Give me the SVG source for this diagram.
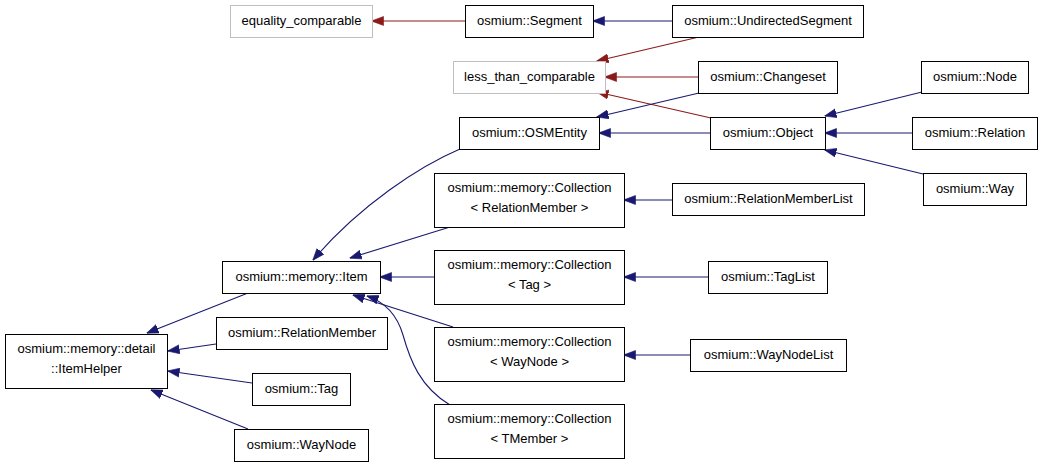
<svg xmlns="http://www.w3.org/2000/svg" width="1043" height="467" viewBox="0 0 1043 467">
<defs>
<style>
.n rect{fill:#fff;stroke:#000;stroke-width:1}
.g rect{fill:#fff;stroke:#bfbfbf;stroke-width:1}
text{font-family:"Liberation Sans",Arial,sans-serif;font-size:13px;fill:#000;text-anchor:middle}
.b{fill:none;stroke:#191970;stroke-width:1.1;marker-end:url(#ab)}
.r{fill:none;stroke:#8b1a1a;stroke-width:1.1;marker-end:url(#ar)}
</style>
<marker id="ab" markerUnits="userSpaceOnUse" markerWidth="12" markerHeight="10" refX="11.5" refY="4.5" orient="auto" viewBox="0 0 12 9">
<path d="M0,0 L12,4.5 L0,9 z" fill="#191970" stroke="#191970" stroke-width="0.6"/>
</marker>
<marker id="ar" markerUnits="userSpaceOnUse" markerWidth="12" markerHeight="10" refX="11.5" refY="4.5" orient="auto" viewBox="0 0 12 9">
<path d="M0,0 L12,4.5 L0,9 z" fill="#8b1a1a" stroke="#8b1a1a" stroke-width="0.6"/>
</marker>
</defs>
<rect width="1043" height="467" fill="#fff"/>
<g id="connectors">
<path class="r" d="M465,21 L372,21"/>
<path class="b" d="M672,21 L593,21"/>
<path class="r" d="M699,37 L597,61"/>
<path class="r" d="M698,77 L605,77"/>
<path class="r" d="M711,118 L597,92"/>
<path class="b" d="M699,93 L597,117"/>
<path class="b" d="M710,133 L599,133"/>
<path class="b" d="M922,92 L825,116"/>
<path class="b" d="M912,133 L825,133"/>
<path class="b" d="M923,174 L825,150"/>
<path class="b" d="M460,149 C420,166 360,205 313,260"/>
<path class="b" d="M450,227 L350,258"/>
<path class="b" d="M434,277 L380,277"/>
<path class="b" d="M453,327 L353,295"/>
<path class="b" d="M450,405 C420,387 410,360 403,335 C398,318 388,303 367,296"/>
<path class="b" d="M248,293 L147,333"/>
<path class="b" d="M216,344 L168,351"/>
<path class="b" d="M252,383 L168,371"/>
<path class="b" d="M248,429 L151,390"/>
<path class="b" d="M672,200 L624,200"/>
<path class="b" d="M708,277 L624,277"/>
<path class="b" d="M690,355 L624,355"/>
</g>
<g id="equality_comparable" class="g"><rect x="230.5" y="5.5" width="142" height="32"/><text x="301.5" y="25">equality_comparable</text></g>
<g id="Segment" class="n"><rect x="465.5" y="5.5" width="128" height="32"/><text x="529.5" y="25">osmium::Segment</text></g>
<g id="UndirectedSegment" class="n"><rect x="672.5" y="5.5" width="191" height="32"/><text x="768" y="25">osmium::UndirectedSegment</text></g>
<g id="less_than_comparable" class="g"><rect x="453.5" y="61.5" width="152" height="32"/><text x="529.5" y="81">less_than_comparable</text></g>
<g id="Changeset" class="n"><rect x="698.5" y="61.5" width="139" height="32"/><text x="768" y="81">osmium::Changeset</text></g>
<g id="OSMEntity" class="n"><rect x="459.5" y="117.5" width="140" height="32"/><text x="529.5" y="137">osmium::OSMEntity</text></g>
<g id="Object" class="n"><rect x="710.5" y="117.5" width="115" height="32"/><text x="768" y="137">osmium::Object</text></g>
<g id="Node" class="n"><rect x="921.5" y="61.5" width="107" height="32"/><text x="975" y="81">osmium::Node</text></g>
<g id="Relation" class="n"><rect x="912.5" y="117.5" width="125" height="32"/><text x="975" y="137">osmium::Relation</text></g>
<g id="Way" class="n"><rect x="923.5" y="173.5" width="103" height="32"/><text x="975" y="193">osmium::Way</text></g>
<g id="CollectionRelationMember" class="n"><rect x="434.5" y="173.5" width="190" height="54"/><text x="529.5" y="192">osmium::memory::Collection</text><text x="529.5" y="212">&lt; RelationMember &gt;</text></g>
<g id="RelationMemberList" class="n"><rect x="672.5" y="183.5" width="192" height="32"/><text x="768.5" y="203">osmium::RelationMemberList</text></g>
<g id="CollectionTag" class="n"><rect x="434.5" y="250.5" width="190" height="54"/><text x="529.5" y="269">osmium::memory::Collection</text><text x="529.5" y="289">&lt; Tag &gt;</text></g>
<g id="TagList" class="n"><rect x="708.5" y="261.5" width="119" height="32"/><text x="768" y="281">osmium::TagList</text></g>
<g id="CollectionWayNode" class="n"><rect x="434.5" y="327.5" width="190" height="54"/><text x="529.5" y="346">osmium::memory::Collection</text><text x="529.5" y="366">&lt; WayNode &gt;</text></g>
<g id="WayNodeList" class="n"><rect x="690.5" y="339.5" width="156" height="32"/><text x="768.5" y="359">osmium::WayNodeList</text></g>
<g id="CollectionTMember" class="n"><rect x="434.5" y="404.5" width="190" height="54"/><text x="529.5" y="423">osmium::memory::Collection</text><text x="529.5" y="443">&lt; TMember &gt;</text></g>
<g id="Item" class="n"><rect x="222.5" y="261.5" width="158" height="32"/><text x="301.5" y="281">osmium::memory::Item</text></g>
<g id="ItemHelper" class="n"><rect x="5.5" y="334.5" width="162" height="54"/><text x="86.5" y="353">osmium::memory::detail</text><text x="86.5" y="373">::ItemHelper</text></g>
<g id="RelationMember" class="n"><rect x="216.5" y="317.5" width="171" height="32"/><text x="302" y="337">osmium::RelationMember</text></g>
<g id="Tag" class="n"><rect x="252.5" y="373.5" width="98" height="32"/><text x="301.5" y="393">osmium::Tag</text></g>
<g id="WayNode" class="n"><rect x="234.5" y="429.5" width="134" height="32"/><text x="301.5" y="449">osmium::WayNode</text></g>
</svg>
